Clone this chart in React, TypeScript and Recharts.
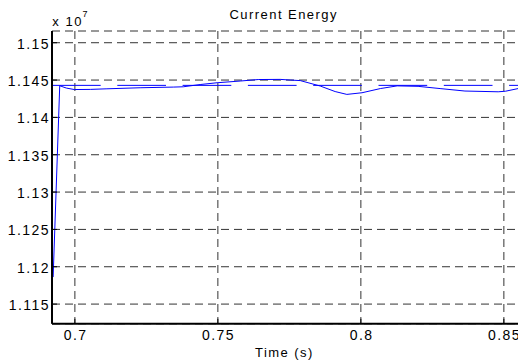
import { LineChart, Line, XAxis, YAxis, CartesianGrid } from "recharts";

// time (s) and energy (x 1e7)
const TIME = [
  0.6924, 0.6947, 0.6970, 0.6998, 0.7054, 0.7112, 0.7228, 0.7344, 0.7379,
  0.7438, 0.7497, 0.7578, 0.7641, 0.7718, 0.7753, 0.7788, 0.7858, 0.7910,
  0.7951, 0.8004, 0.8068, 0.8127, 0.8200, 0.8277, 0.8364, 0.8480, 0.8505,
  0.8550, 0.8590,
];
const ENERGY = [
  1.11862, 1.14424, 1.14393, 1.14373, 1.14375, 1.14383, 1.14397, 1.14406, 1.1441,
  1.1444, 1.14464, 1.14487, 1.14507, 1.14509, 1.145, 1.14493, 1.1442, 1.14346,
  1.14308, 1.1433, 1.14386, 1.14422, 1.14416, 1.14386, 1.14353, 1.14343, 1.1435,
  1.14386, 1.1441,
];
const REF_TIME = [0.692, 0.859];
const REF_ENERGY = [1.14429, 1.14429];

const X_TICKS = [0.7, 0.75, 0.8, 0.85];
const X_LABELS = ["0.7", "0.75", "0.8", "0.85"];
const Y_TICKS = [1.115, 1.12, 1.125, 1.13, 1.135, 1.14, 1.145, 1.15];
const Y_LABELS = ["1.115", "1.12", "1.125", "1.13", "1.135", "1.14", "1.145", "1.15"];

const X_DOMAIN: [number, number] = [0.692, 0.859];
const Y_DOMAIN: [number, number] = [1.11236, 1.15157];

const energy = TIME.map((t, i) => ({ t, v: ENERGY[i] }));
const reference = REF_TIME.map((t, i) => ({ t, v: REF_ENERGY[i] }));

const FONT = "'Liberation Sans', Arial, sans-serif";

function labelFor(list: number[], labels: string[], v: number) {
  const i = list.findIndex((x) => Math.abs(x - v) < 1e-9);
  return i >= 0 ? labels[i] : String(v);
}

function YTick(props: any) {
  const { x, y, payload } = props;
  return (
    <g>
      <line x1={x} x2={x + 5} y1={y} y2={y} stroke="#000" strokeWidth={1} />
      <text
        x={x - 2}
        y={y + 6}
        textAnchor="end"
        fontSize={14}
        fontFamily={FONT}
        letterSpacing={1.45}
        fill="#000"
      >
        {labelFor(Y_TICKS, Y_LABELS, payload.value)}
      </text>
    </g>
  );
}

function XTick(props: any) {
  const { x, y, payload } = props;
  return (
    <g>
      <line x1={x} x2={x} y1={y} y2={y - 5} stroke="#000" strokeWidth={1} />
      <text
        x={x + 0.7}
        y={y + 16.2}
        textAnchor="middle"
        fontSize={14}
        fontFamily={FONT}
        letterSpacing={1.45}
        fill="#000"
      >
        {labelFor(X_TICKS, X_LABELS, payload.value)}
      </text>
    </g>
  );
}

function TopTick(props: any) {
  const { x, y } = props;
  return <line x1={x} x2={x} y1={y} y2={y + 5} stroke="#000" strokeWidth={1} />;
}

export default function App() {
  return (
    <div
      style={{
        position: "absolute",
        left: 0,
        top: 0,
        width: 518,
        height: 363,
        overflow: "hidden",
        background: "#fff",
      }}
    >
      <LineChart
        width={540}
        height={363}
        margin={{ top: 31, right: 10.4, left: 0, bottom: 0 }}
      >
        <CartesianGrid stroke="#333" strokeDasharray="8 5" strokeWidth={1} />
        <XAxis
          xAxisId={0}
          dataKey="t"
          type="number"
          domain={X_DOMAIN}
          ticks={X_TICKS}
          allowDataOverflow
          height={39.2}
          tickSize={0}
          tickMargin={0}
          tickLine={false}
          tick={<XTick />}
          axisLine={{ stroke: "#000", strokeWidth: 2 }}
        />
        <XAxis
          xAxisId="top"
          orientation="top"
          dataKey="t"
          type="number"
          domain={X_DOMAIN}
          ticks={X_TICKS}
          allowDataOverflow
          height={0}
          tickSize={0}
          tickMargin={0}
          tickLine={false}
          tick={<TopTick />}
          axisLine={{ stroke: "#000", strokeWidth: 1 }}
        />
        <YAxis
          dataKey="v"
          type="number"
          domain={Y_DOMAIN}
          ticks={Y_TICKS}
          allowDataOverflow
          width={52}
          tickSize={0}
          tickMargin={0}
          tickLine={false}
          tick={<YTick />}
          axisLine={{ stroke: "#000", strokeWidth: 2 }}
        />
        <Line
          data={reference}
          dataKey="v"
          type="linear"
          stroke="#0000ff"
          strokeWidth={1}
          strokeDasharray="48.7 16.6"
          dot={false}
          isAnimationActive={false}
        />
        <Line
          data={energy}
          dataKey="v"
          type="linear"
          stroke="#0000ff"
          strokeWidth={1}
          dot={false}
          isAnimationActive={false}
        />
      </LineChart>
      <svg
        width={518}
        height={363}
        style={{ position: "absolute", left: 0, top: 0, pointerEvents: "none" }}
      >
        <text
          x={283.7}
          y={19}
          textAnchor="middle"
          fontSize={13}
          fontFamily={FONT}
          letterSpacing={1.45}
          fill="#000"
        >
          Current Energy
        </text>
        <text x={52.3} y={25.7} fontSize={13} fontFamily={FONT} letterSpacing={1.5} fill="#000">
          x 10
        </text>
        <text x={82.5} y={16.5} fontSize={9} fontFamily={FONT} fill="#000">
          7
        </text>
        <text x={255} y={357} fontSize={13} fontFamily={FONT} letterSpacing={1.45} fill="#000">
          Time (s)
        </text>
      </svg>
    </div>
  );
}
